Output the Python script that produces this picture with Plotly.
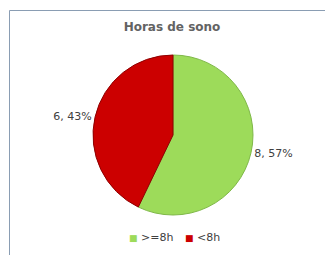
import plotly.graph_objects as go

labels = [">=8h", "<8h"]
values = [8, 6]
colors = ["#9ddb5a", "#cc0000"]
title = "Horas de sono"

W, H = 325, 255
cx, cy, r = 173, 135, 80

fig = go.Figure(go.Pie(
    labels=labels,
    values=values,
    marker=dict(colors=colors, line=dict(color=["#7fb848", "#8f0000"], width=1)),
    sort=False,
    direction="clockwise",
    rotation=0,
    textposition="outside",
    texttemplate="%{value}, %{percent:.0%}",
    outsidetextfont=dict(family="DejaVu Sans", size=11, color="#404040"),
    domain=dict(x=[(cx - r) / W, (cx + r) / W], y=[1 - (cy + r) / H, 1 - (cy - r) / H]),
    automargin=False,
    showlegend=False,
    hoverinfo="label+value+percent",
))

# custom legend with small square markers
leg_x = [127, 183]
leg_y = 237
annotations = []
for lab, col, lx in zip(labels, colors, leg_x):
    annotations.append(dict(
        xref="paper", yref="paper", x=lx / W, y=1 - leg_y / H, xanchor="left", yanchor="middle",
        text=f"<span style='color:{col};font-size:9px'>■</span> {lab.replace('<', '&lt;').replace('>', '&gt;')}",
        showarrow=False, font=dict(family="DejaVu Sans", size=11, color="#404040"),
    ))

bx, by = 9.5 / W, 1 - 10.5 / H
border = dict(color="#8a9db3", width=1)
fig.update_layout(
    width=W, height=H,
    margin=dict(l=0, r=0, t=0, b=0),
    paper_bgcolor="white",
    title=dict(text=f"<b>{title}</b>", x=172 / W, xanchor="center", y=1 - 27 / H, yanchor="middle",
               font=dict(family="DejaVu Sans", size=12, color="#636363")),
    annotations=annotations,
    shapes=[
        dict(type="line", xref="paper", yref="paper", x0=bx, x1=1, y0=by, y1=by, line=border, layer="below"),
        dict(type="line", xref="paper", yref="paper", x0=bx, x1=bx, y0=0, y1=by, line=border, layer="below"),
    ],
)

fig.write_html("out.html", config={"displayModeBar": False},
               post_script="document.body.style.margin='0';document.body.style.overflow='hidden';")
